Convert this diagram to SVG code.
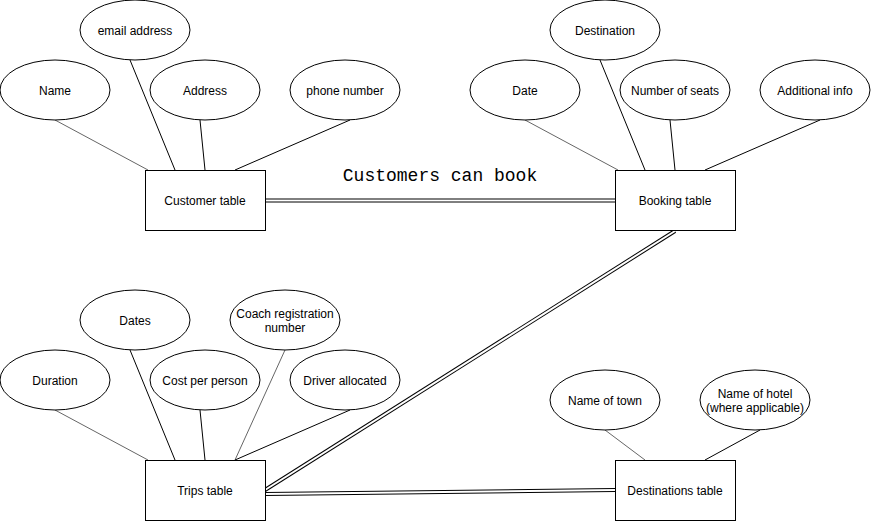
<svg xmlns="http://www.w3.org/2000/svg" width="871" height="521" viewBox="0 0 871 521">
<style>
.e{fill:#fff;stroke:#000;stroke-width:1}
.r{fill:#fff;stroke:#000;stroke-width:1}
.t{font-family:"Liberation Sans",Arial,sans-serif;font-size:12px;fill:#000;text-anchor:middle;dominant-baseline:central}
.k{stroke:#000;stroke-width:1;fill:none}
.g{stroke:#666;stroke-width:1;fill:none}
.dbo{stroke:#000;stroke-width:4;fill:none}
.dbi{stroke:#fff;stroke-width:2;fill:none}
</style>
<rect width="871" height="521" fill="#fff"/>
<g id="connectors">
<line class="g" x1="55" y1="120" x2="148" y2="170"/>
<line class="k" x1="130" y1="60" x2="175" y2="170"/>
<line class="k" x1="200" y1="120" x2="205" y2="170"/>
<line class="k" x1="350" y1="120" x2="235" y2="170"/>
<line class="g" x1="525" y1="120" x2="618" y2="170"/>
<line class="k" x1="600" y1="60" x2="645" y2="170"/>
<line class="k" x1="670" y1="120" x2="675" y2="170"/>
<line class="k" x1="820" y1="120" x2="705" y2="170"/>
<line class="g" x1="55" y1="410" x2="148" y2="460"/>
<line class="k" x1="130" y1="350" x2="175" y2="460"/>
<line class="k" x1="200" y1="410" x2="205" y2="460"/>
<line class="g" x1="285" y1="350" x2="235" y2="460"/>
<line class="k" x1="350" y1="410" x2="235" y2="460"/>
<line class="g" x1="605" y1="430" x2="645" y2="460"/>
<line class="k" x1="760" y1="430" x2="705" y2="460"/>
<line class="dbo" x1="265" y1="200.5" x2="615" y2="200.5"/>
<line class="dbi" x1="265" y1="200.5" x2="615" y2="200.5"/>
<line class="dbo" x1="675" y1="231" x2="265" y2="490"/>
<line class="dbi" x1="675" y1="231" x2="265" y2="490"/>
<line class="dbo" x1="265" y1="494" x2="615" y2="490"/>
<line class="dbi" x1="265" y1="494" x2="615" y2="490"/>
<text x="440" y="181" font-family="'Liberation Mono','Courier New',monospace" font-size="18" text-anchor="middle" fill="#000">Customers can book</text>
</g>
<g id="customer-table"><rect class="r" x="145.5" y="170.5" width="120" height="60"/><text class="t" x="205" y="201">Customer table</text></g>
<g id="name"><ellipse class="e" cx="55" cy="90" rx="55" ry="30"/><text class="t" x="55" y="91">Name</text></g>
<g id="email-address"><ellipse class="e" cx="135" cy="30" rx="55" ry="30"/><text class="t" x="135" y="31">email address</text></g>
<g id="address"><ellipse class="e" cx="205" cy="90" rx="55" ry="30"/><text class="t" x="205" y="91">Address</text></g>
<g id="phone-number"><ellipse class="e" cx="345" cy="90" rx="55" ry="30"/><text class="t" x="345" y="91">phone number</text></g>
<g id="booking-table"><rect class="r" x="615.5" y="170.5" width="120" height="60"/><text class="t" x="675" y="201">Booking table</text></g>
<g id="date"><ellipse class="e" cx="525" cy="90" rx="55" ry="30"/><text class="t" x="525" y="91">Date</text></g>
<g id="destination"><ellipse class="e" cx="605" cy="30" rx="55" ry="30"/><text class="t" x="605" y="31">Destination</text></g>
<g id="number-of-seats"><ellipse class="e" cx="675" cy="90" rx="55" ry="30"/><text class="t" x="675" y="91">Number of seats</text></g>
<g id="additional-info"><ellipse class="e" cx="815" cy="90" rx="55" ry="30"/><text class="t" x="815" y="91">Additional info</text></g>
<g id="trips-table"><rect class="r" x="145.5" y="460.5" width="120" height="60"/><text class="t" x="205" y="491">Trips table</text></g>
<g id="duration"><ellipse class="e" cx="55" cy="380" rx="55" ry="30"/><text class="t" x="55" y="381">Duration</text></g>
<g id="dates"><ellipse class="e" cx="135" cy="320" rx="55" ry="30"/><text class="t" x="135" y="321">Dates</text></g>
<g id="cost-per-person"><ellipse class="e" cx="205" cy="380" rx="55" ry="30"/><text class="t" x="205" y="381">Cost per person</text></g>
<g id="coach-registration-number"><ellipse class="e" cx="285" cy="320" rx="55" ry="30"/><text class="t" x="285" y="314">Coach registration</text><text class="t" x="285" y="328">number</text></g>
<g id="driver-allocated"><ellipse class="e" cx="345" cy="380" rx="55" ry="30"/><text class="t" x="345" y="381">Driver allocated</text></g>
<g id="destinations-table"><rect class="r" x="615.5" y="460.5" width="120" height="60"/><text class="t" x="675" y="491">Destinations table</text></g>
<g id="name-of-town"><ellipse class="e" cx="605" cy="400" rx="55" ry="30"/><text class="t" x="605" y="401">Name of town</text></g>
<g id="name-of-hotel"><ellipse class="e" cx="755" cy="400" rx="55" ry="30"/><text class="t" x="755" y="394">Name of hotel</text><text class="t" x="755" y="408">(where applicable)</text></g>
</svg>
